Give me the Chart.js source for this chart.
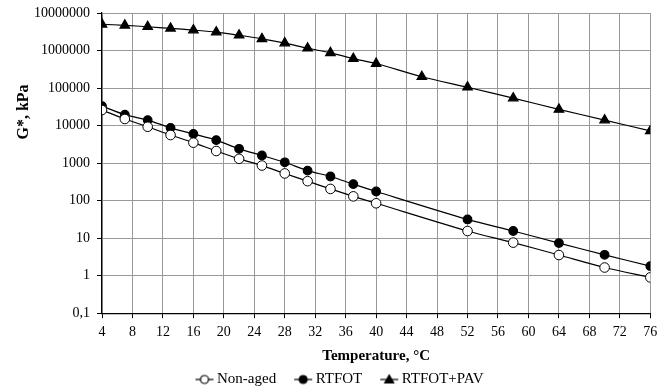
<!DOCTYPE html>
<html>
<head>
<meta charset="utf-8">
<script src="https://cdn.jsdelivr.net/npm/chart.js@4"></script>
<style>
  body { margin: 0; background: #fff; }
  canvas { display: block; }
</style>
</head>
<body>
<canvas id="chart" width="657" height="392"></canvas>
<script>
// temperatures, °C
const tempsPav = [4, 7, 10, 13, 16, 19, 22, 25, 28, 31, 34, 37, 40, 46, 52, 58, 64, 70, 76];
const temps = [4, 7, 10, 13, 16, 19, 22, 25, 28, 31, 34, 37, 40, 52, 58, 64, 70, 76];

// G*, kPa
const nonAged = [26000, 15000, 9300, 5600, 3500, 2100, 1300, 860, 530, 330, 205, 130, 85, 15.5, 7.6, 3.55, 1.65, 0.9];
const rtfot = [33000, 19500, 14000, 8700, 6000, 4100, 2400, 1600, 1050, 630, 440, 275, 175, 31.5, 15.5, 7.4, 3.6, 1.8];
const rtfotPav = [5000000, 4700000, 4300000, 3900000, 3500000, 3100000, 2550000, 2050000, 1580000, 1150000,
                  870000, 610000, 450000, 200000, 105000, 54000, 27000, 14000, 7200];

const yTicks = [0.1, 1, 10, 100, 1000, 10000, 100000, 1000000, 10000000];

const FONT = "'Liberation Serif', 'Times New Roman', serif";

const toPoints = (xs, ys) => xs.map((x, i) => ({ x: x, y: ys[i] }));

// legend icons: short line with the marker, blank space on the left
// so the items sit further apart and the text hugs the line
function legendIcon(style, fill) {
    const c = document.createElement('canvas');
    c.width = 40; c.height = 12;
    const g = c.getContext('2d');
    g.strokeStyle = '#000';
    g.lineWidth = 1.2;
    g.beginPath(); g.moveTo(20, 6); g.lineTo(38, 6); g.stroke();
    g.fillStyle = fill;
    g.beginPath();
    if (style === 'triangle') {
        g.moveTo(29, 1.5); g.lineTo(33.5, 9.5); g.lineTo(24.5, 9.5); g.closePath();
    } else {
        g.arc(29, 6, 4, 0, Math.PI * 2);
    }
    g.fill(); g.stroke();
    return c;
}

const yTitle = {
    id: 'yTitle',
    afterLayout(chart) {
        // legend sits a bit left of centre in the original
        chart.legend.left -= 8;
        chart.legend.right -= 8;
    },
    afterDraw(chart) {
        const ctx = chart.ctx;
        ctx.save();
        ctx.translate(24, 112);
        ctx.rotate(-Math.PI / 2);
        ctx.font = 'bold 16px ' + FONT;
        ctx.fillStyle = '#000';
        ctx.textAlign = 'center';
        ctx.textBaseline = 'middle';
        ctx.fillText('G*, kPa', 0, 0);
        ctx.restore();
    }
};

const icons = [legendIcon('circle', '#fff'), legendIcon('circle', '#000'), legendIcon('triangle', '#000')];

new Chart(document.getElementById('chart'), {
    type: 'line',
    data: {
        datasets: [
            {
                label: 'Non-aged',
                data: toPoints(temps, nonAged),
                borderColor: '#000', borderWidth: 1.2,
                pointStyle: 'circle', pointRadius: 4.8,
                pointBackgroundColor: '#fff', pointBorderColor: '#000', pointBorderWidth: 1,
                tension: 0.3
            },
            {
                label: 'RTFOT',
                data: toPoints(temps, rtfot),
                borderColor: '#000', borderWidth: 1.2,
                pointStyle: 'circle', pointRadius: 4.3,
                pointBackgroundColor: '#000', pointBorderColor: '#000',
                tension: 0.3
            },
            {
                label: 'RTFOT+PAV',
                data: toPoints(tempsPav, rtfotPav),
                borderColor: '#000', borderWidth: 1.2,
                pointStyle: 'triangle', pointRadius: 5.5,
                pointBackgroundColor: '#000', pointBorderColor: '#000',
                tension: 0.3
            }
        ]
    },
    options: {
        responsive: false,
        animation: false,
        layout: { padding: { left: 27, right: 3, top: 13, bottom: -5 } },
        scales: {
            x: {
                type: 'linear',
                min: 4, max: 76,
                afterFit: (scale) => { scale.paddingRight = 0; },
                ticks: { stepSize: 4, color: '#000', font: { family: FONT, size: 14 }, padding: 6, maxRotation: 0 },
                grid: { color: '#999', tickColor: '#000', tickLength: 5 },
                border: { color: '#000', width: 1.2 },
                title: { display: true, text: 'Temperature, °C', color: '#000', font: { family: FONT, size: 15, weight: 'bold' }, padding: { top: 0, bottom: 3 } }
            },
            y: {
                type: 'logarithmic',
                min: 0.1, max: 10000000,
                afterBuildTicks: (scale) => { scale.ticks = yTicks.map(v => ({ value: v })); },
                afterFit: (scale) => { scale.paddingTop = 0; },
                ticks: {
                    color: '#000', font: { family: FONT, size: 14 }, padding: 7,
                    callback: (v) => v === 0.1 ? '0,1' : String(v)
                },
                grid: { color: '#999', tickColor: '#000', tickLength: 5 },
                border: { color: '#000', width: 1.2 }
            }
        },
        plugins: {
            legend: {
                position: 'bottom',
                labels: {
                    usePointStyle: true,
                    pointStyleWidth: 28,
                    boxHeight: 12,
                    padding: 4,
                    color: '#000',
                    font: { family: FONT, size: 15 },
                    generateLabels: (chart) => chart.data.datasets.map((ds, i) => ({
                        text: ds.label,
                        pointStyle: icons[i],
                        fillStyle: '#000', strokeStyle: '#000', lineWidth: 0,
                        fontColor: '#000',
                        datasetIndex: i, hidden: false
                    }))
                }
            },
            tooltip: { enabled: false }
        }
    },
    plugins: [yTitle]
});
</script>
</body>
</html>
